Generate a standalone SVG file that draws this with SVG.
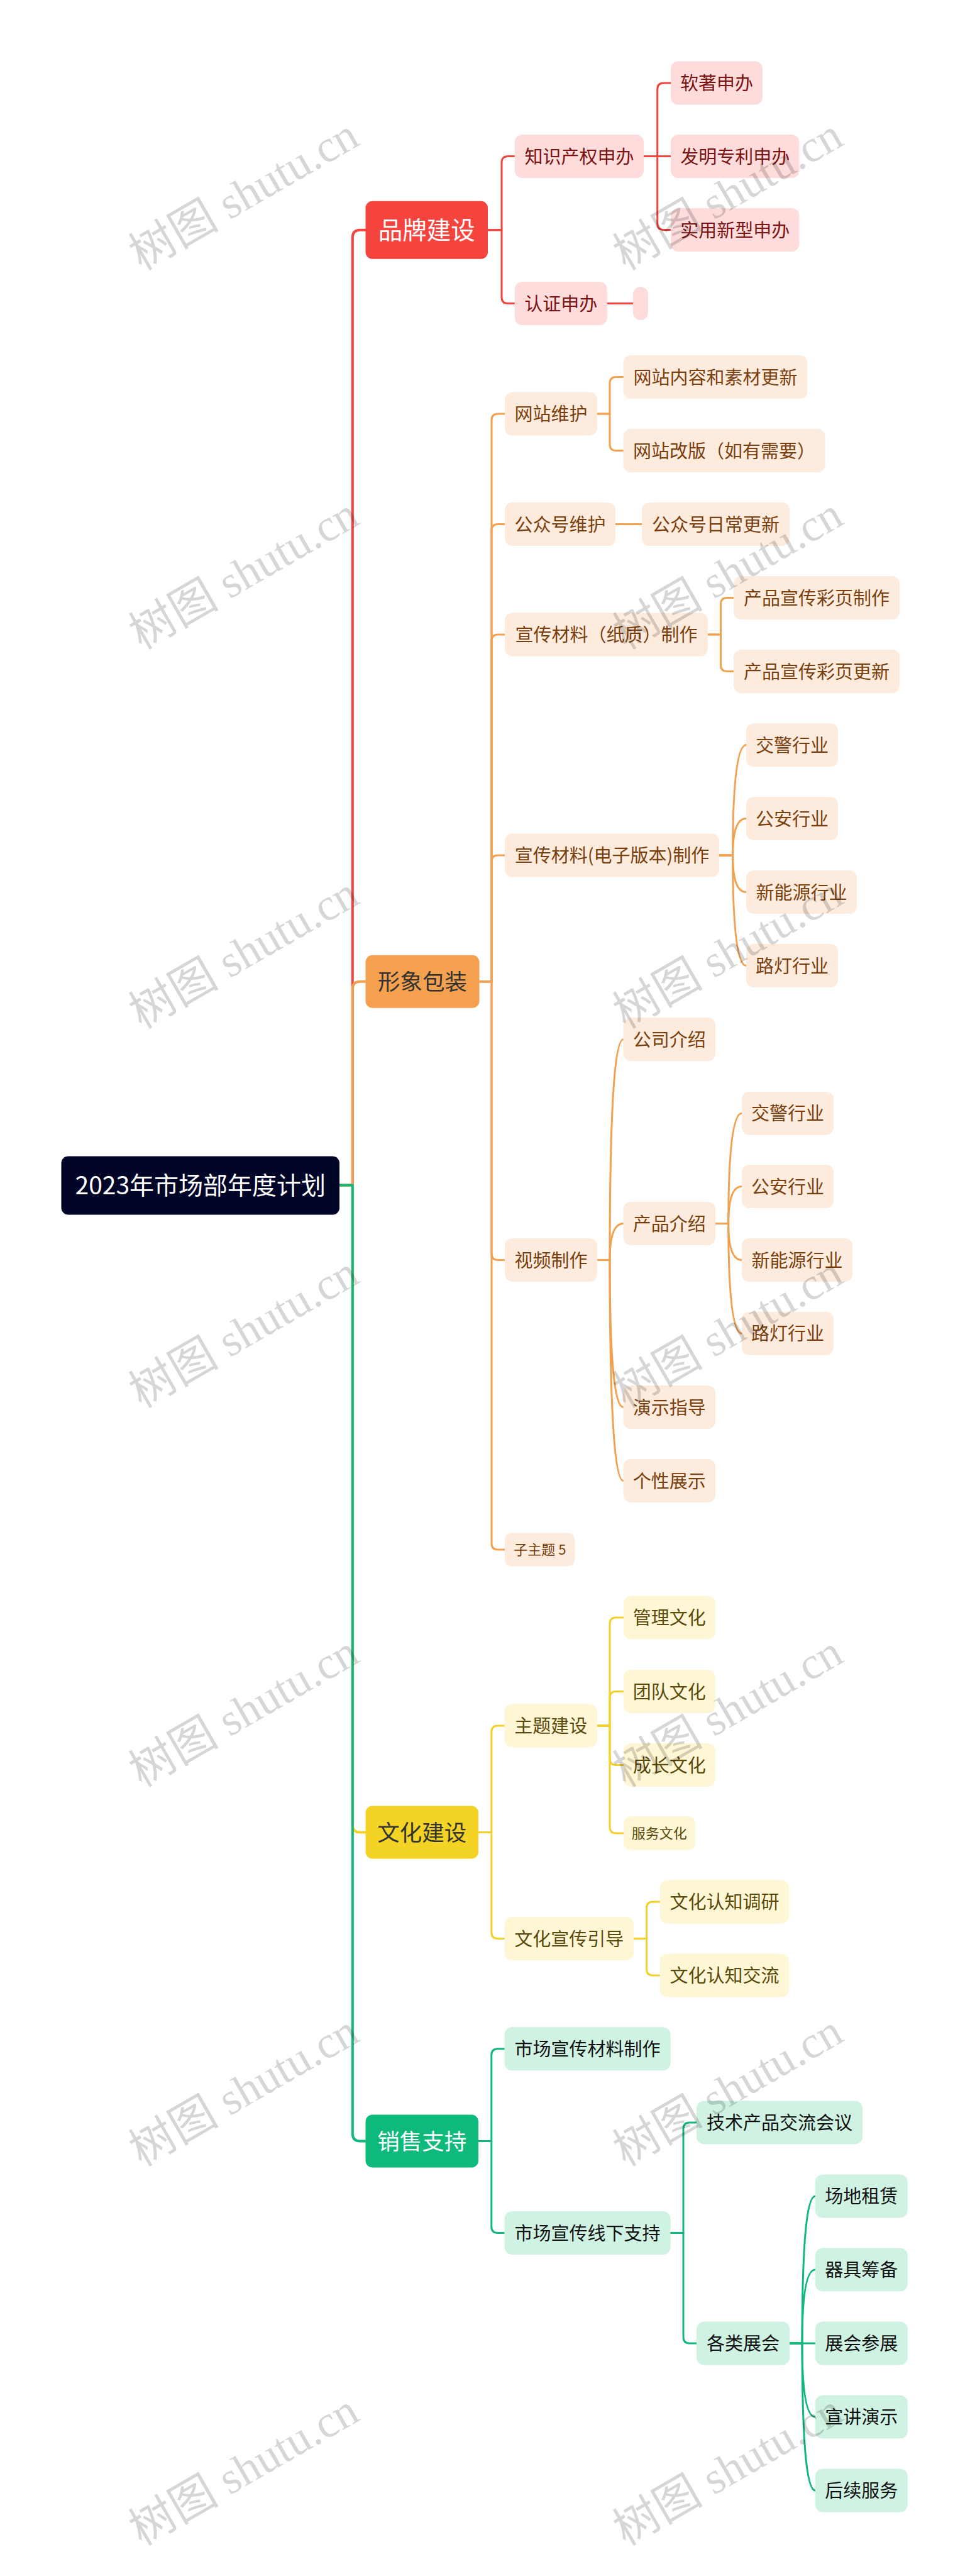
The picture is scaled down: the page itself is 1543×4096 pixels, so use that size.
<svg xmlns="http://www.w3.org/2000/svg" width="1543" height="4096" viewBox="0 0 1543 4096">
<style>
text{font-family:"Noto Sans CJK SC","Noto Sans",sans-serif;text-anchor:middle}
.c{fill:none;stroke-linecap:round;stroke-linejoin:round}
.tr{stroke-width:4}
.br{stroke-width:3}
.red{stroke:#F3443D}
.org{stroke:#F1A14F}
.yel{stroke:#F2D02A}
.grn{stroke:#12B87B}
.n-root{fill:#000426}
.n-rm{fill:#F5433D}
.n-om{fill:#F5A14F}
.n-ym{fill:#F3D425}
.n-gm{fill:#0DBA7B}
.n-r{fill:#FDDCDB}
.n-o{fill:#FDEBDD}
.n-y{fill:#FEF6D5}
.n-g{fill:#CFF2E3}
.t-root{fill:#ffffff;font-size:39px}
.t-bm{fill:#ffffff;font-size:38.5px}
.t-mw{fill:#ffffff;font-size:35.5px}
.t-md{fill:#333333;font-size:35.5px}
.t-r{fill:#7C1212;font-size:29px}
.t-o{fill:#7A3F0E;font-size:29px}
.t-y{fill:#5A4B0C;font-size:29px}
.t-g{fill:#111111;font-size:29px}
.sm{font-size:22px}
.wm{font-family:"Liberation Serif","Noto Sans CJK SC",serif;font-size:72px;fill:#000000;fill-opacity:0.16}
</style>
<rect x="0" y="0" width="1543" height="4096" fill="#ffffff"/>

<g id="connectors">
  <!-- trunk -->
  <path class="c tr red" d="M540 1884.5 H560.8 V377.7 Q560.8 365.7 572.8 365.7 H581.5"/>
  <path class="c tr org" d="M540 1884.5 H560.8 V1572.8 Q560.8 1560.8 572.8 1560.8 H581.5"/>
  <path class="c tr yel" d="M540 1884.5 H560.8 V2901.5 Q560.8 2913.5 572.8 2913.5 H581.5"/>
  <path class="c tr grn" d="M540 1884.5 H560.8 V3392.5 Q560.8 3404.5 572.8 3404.5 H581.5"/>
  <!-- brand -->
  <path class="c br red" d="M776 365.7 H798 V258.5 Q798 248.5 808 248.5 H818.7"/>
  <path class="c br red" d="M776 365.7 H798 V472.5 Q798 482.5 808 482.5 H818.7"/>
  <path class="c br red" d="M1024 248.5 H1067"/>
  <path class="c br red" d="M1024 248.5 H1045.7 V142 Q1045.7 132 1055.7 132 H1067"/>
  <path class="c br red" d="M1024 248.5 H1045.7 V355.5 Q1045.7 365.5 1055.7 365.5 H1067"/>
  <path class="c br red" d="M965.7 482.5 H1007"/>
  <!-- image -->
  <path class="c br org" d="M762.5 1560.8 H782 V668 Q782 658 792 658 H803"/>
  <path class="c br org" d="M762.5 1560.8 H782 V843.5 Q782 833.5 792 833.5 H803"/>
  <path class="c br org" d="M762.5 1560.8 H782 V1019 Q782 1009 792 1009 H803"/>
  <path class="c br org" d="M762.5 1560.8 H782 V1370 Q782 1360 792 1360 H803"/>
  <path class="c br org" d="M762.5 1560.8 H782 V1993.5 Q782 2003.5 792 2003.5 H803"/>
  <path class="c br org" d="M762.5 1560.8 H782 V2454 Q782 2464 792 2464 H803"/>
  <path class="c br org" d="M950 658 H970 V609.5 Q970 599.5 980 599.5 H991.5"/>
  <path class="c br org" d="M950 658 H970 V706.5 Q970 716.5 980 716.5 H991.5"/>
  <path class="c br org" d="M979 833.5 H1021"/>
  <path class="c br org" d="M1126 1009 H1146.5 V960.5 Q1146.5 950.5 1156.5 950.5 H1167"/>
  <path class="c br org" d="M1126 1009 H1146.5 V1057.5 Q1146.5 1067.5 1156.5 1067.5 H1167"/>
  <path class="c br org" d="M1144 1360 H1165.6 Q1165.6 1184.5 1187 1184.5"/>
  <path class="c br org" d="M1144 1360 H1165.6 Q1165.6 1301.5 1187 1301.5"/>
  <path class="c br org" d="M1144 1360 H1165.6 Q1165.6 1418.5 1187 1418.5"/>
  <path class="c br org" d="M1144 1360 H1165.6 Q1165.6 1535.5 1187 1535.5"/>
  <path class="c br org" d="M950 2003.5 H970 Q970 1652.8 991.5 1652.8"/>
  <path class="c br org" d="M950 2003.5 H970 Q970 1945.5 991.5 1945.5"/>
  <path class="c br org" d="M950 2003.5 H970 Q970 2237.5 991.5 2237.5"/>
  <path class="c br org" d="M950 2003.5 H970 Q970 2354.5 991.5 2354.5"/>
  <path class="c br org" d="M1138 1945.5 H1158.7 Q1158.7 1770.3 1180 1770.3"/>
  <path class="c br org" d="M1138 1945.5 H1158.7 Q1158.7 1886.5 1180 1886.5"/>
  <path class="c br org" d="M1138 1945.5 H1158.7 Q1158.7 2003.5 1180 2003.5"/>
  <path class="c br org" d="M1138 1945.5 H1158.7 Q1158.7 2120.3 1180 2120.3"/>
  <!-- culture -->
  <path class="c br yel" d="M761 2913.5 H781.8 V2754 Q781.8 2744 791.8 2744 H802.5"/>
  <path class="c br yel" d="M761 2913.5 H781.8 V3072.5 Q781.8 3082.5 791.8 3082.5 H802.5"/>
  <path class="c br yel" d="M950 2744 H970 V2582 Q970 2572 980 2572 H991.8"/>
  <path class="c br yel" d="M950 2744 H970 V2699.5 Q970 2689.5 980 2689.5 H991.8"/>
  <path class="c br yel" d="M950 2744 H970 V2796.5 Q970 2806.5 980 2806.5 H991.8"/>
  <path class="c br yel" d="M950 2744 H970 V2905 Q970 2915 980 2915 H991.8"/>
  <path class="c br yel" d="M1008 3082.5 H1028.5 V3034 Q1028.5 3024 1038.5 3024 H1049.7"/>
  <path class="c br yel" d="M1008 3082.5 H1028.5 V3131 Q1028.5 3141 1038.5 3141 H1049.7"/>
  <!-- sales -->
  <path class="c br grn" d="M761 3404.5 H781.8 V3267.8 Q781.8 3257.8 791.8 3257.8 H802.5"/>
  <path class="c br grn" d="M761 3404.5 H781.8 V3540.5 Q781.8 3550.5 791.8 3550.5 H802.5"/>
  <path class="c br grn" d="M1066.7 3550.5 H1087 V3385 Q1087 3375 1097 3375 H1108"/>
  <path class="c br grn" d="M1066.7 3550.5 H1087 V3716 Q1087 3726 1097 3726 H1108"/>
  <path class="c br grn" d="M1256 3726 H1276 Q1276 3492 1296.8 3492"/>
  <path class="c br grn" d="M1256 3726 H1276 Q1276 3609 1296.8 3609"/>
  <path class="c br grn" d="M1256 3726 H1296.8"/>
  <path class="c br grn" d="M1256 3726 H1276 Q1276 3843 1296.8 3843"/>
  <path class="c br grn" d="M1256 3726 H1276 Q1276 3960 1296.8 3960"/>
</g>

<g id="root"><rect class="n-root" x="97.5" y="1838.5" width="442.5" height="93" rx="11"/><text class="t-root" x="318.8" y="1899.3">2023年市场部年度计划</text></g>

<!-- brand -->
<g id="brand"><rect class="n-rm" x="581.5" y="319.7" width="194.5" height="92" rx="11"/><text class="t-bm" x="678.8" y="380.3">品牌建设</text></g>
<g id="ip"><rect class="n-r" x="818.7" y="214" width="205.3" height="69" rx="12"/><text class="t-r" x="921.4" y="259.5">知识产权申办</text></g>
<g id="cert"><rect class="n-r" x="818.7" y="448" width="147" height="69" rx="12"/><text class="t-r" x="892.2" y="493.5">认证申办</text></g>
<g id="soft"><rect class="n-r" x="1067" y="97.5" width="146" height="69" rx="12"/><text class="t-r" x="1140" y="143">软著申办</text></g>
<g id="patent"><rect class="n-r" x="1067" y="214" width="204.5" height="69" rx="12"/><text class="t-r" x="1169.3" y="259.5">发明专利申办</text></g>
<g id="utility"><rect class="n-r" x="1067" y="331" width="204.5" height="69" rx="12"/><text class="t-r" x="1169.3" y="376.5">实用新型申办</text></g>
<g id="empty"><rect class="n-r" x="1007" y="456" width="24" height="53" rx="12"/></g>

<!-- image -->
<g id="image"><rect class="n-om" x="581.5" y="1518.8" width="181" height="84" rx="11"/><text class="t-md" x="672" y="1574.3">形象包装</text></g>
<g id="web"><rect class="n-o" x="803" y="623.5" width="147" height="69" rx="12"/><text class="t-o" x="876.5" y="669">网站维护</text></g>
<g id="web1"><rect class="n-o" x="991.5" y="565" width="293" height="69" rx="12"/><text class="t-o" x="1138" y="610.5">网站内容和素材更新</text></g>
<g id="web2"><rect class="n-o" x="991.5" y="682" width="321" height="69" rx="12"/><text class="t-o" x="1152" y="727.5">网站改版（如有需要）</text></g>
<g id="wechat"><rect class="n-o" x="803" y="799" width="176" height="69" rx="12"/><text class="t-o" x="891" y="844.5">公众号维护</text></g>
<g id="wechat1"><rect class="n-o" x="1021" y="799" width="235" height="69" rx="12"/><text class="t-o" x="1138.5" y="844.5">公众号日常更新</text></g>
<g id="paper"><rect class="n-o" x="803" y="974.5" width="323" height="69" rx="12"/><text class="t-o" x="964.5" y="1020">宣传材料（纸质）制作</text></g>
<g id="paper1"><rect class="n-o" x="1167" y="916" width="264" height="69" rx="12"/><text class="t-o" x="1299" y="961.5">产品宣传彩页制作</text></g>
<g id="paper2"><rect class="n-o" x="1167" y="1033" width="264" height="69" rx="12"/><text class="t-o" x="1299" y="1078.5">产品宣传彩页更新</text></g>
<g id="ebook"><rect class="n-o" x="803" y="1325.5" width="341" height="69" rx="12"/><text class="t-o" x="973.5" y="1371">宣传材料(电子版本)制作</text></g>
<g id="e1"><rect class="n-o" x="1187" y="1150" width="146" height="69" rx="12"/><text class="t-o" x="1260" y="1195.5">交警行业</text></g>
<g id="e2"><rect class="n-o" x="1187" y="1267" width="146" height="69" rx="12"/><text class="t-o" x="1260" y="1312.5">公安行业</text></g>
<g id="e3"><rect class="n-o" x="1187" y="1384" width="176" height="69" rx="12"/><text class="t-o" x="1275" y="1429.5">新能源行业</text></g>
<g id="e4"><rect class="n-o" x="1187" y="1501" width="146" height="69" rx="12"/><text class="t-o" x="1260" y="1546.5">路灯行业</text></g>
<g id="video"><rect class="n-o" x="803" y="1969" width="147" height="69" rx="12"/><text class="t-o" x="876.5" y="2014.5">视频制作</text></g>
<g id="v1"><rect class="n-o" x="991.5" y="1618.3" width="146.5" height="69" rx="12"/><text class="t-o" x="1064.8" y="1663.8">公司介绍</text></g>
<g id="v2"><rect class="n-o" x="991.5" y="1911" width="146.5" height="69" rx="12"/><text class="t-o" x="1064.8" y="1956.5">产品介绍</text></g>
<g id="v3"><rect class="n-o" x="991.5" y="2203" width="146.5" height="69" rx="12"/><text class="t-o" x="1064.8" y="2248.5">演示指导</text></g>
<g id="v4"><rect class="n-o" x="991.5" y="2320" width="146.5" height="69" rx="12"/><text class="t-o" x="1064.8" y="2365.5">个性展示</text></g>
<g id="p1"><rect class="n-o" x="1180" y="1735.8" width="146" height="69" rx="12"/><text class="t-o" x="1253" y="1781.3">交警行业</text></g>
<g id="p2"><rect class="n-o" x="1180" y="1852" width="146" height="69" rx="12"/><text class="t-o" x="1253" y="1897.5">公安行业</text></g>
<g id="p3"><rect class="n-o" x="1180" y="1969" width="176" height="69" rx="12"/><text class="t-o" x="1268" y="2014.5">新能源行业</text></g>
<g id="p4"><rect class="n-o" x="1180" y="2085.8" width="146" height="69" rx="12"/><text class="t-o" x="1253" y="2131.3">路灯行业</text></g>
<g id="sub5"><rect class="n-o" x="803" y="2437.5" width="111.5" height="53" rx="11"/><text class="t-o sm" x="858.8" y="2472.4">子主题 5</text></g>

<!-- culture -->
<g id="culture"><rect class="n-ym" x="581.5" y="2871.5" width="179.5" height="84" rx="11"/><text class="t-md" x="671.3" y="2927">文化建设</text></g>
<g id="theme"><rect class="n-y" x="802.5" y="2709.5" width="147.5" height="69" rx="12"/><text class="t-y" x="876.3" y="2755">主题建设</text></g>
<g id="c1"><rect class="n-y" x="991.8" y="2537.5" width="146" height="69" rx="12"/><text class="t-y" x="1064.8" y="2583">管理文化</text></g>
<g id="c2"><rect class="n-y" x="991.8" y="2655" width="146" height="69" rx="12"/><text class="t-y" x="1064.8" y="2700.5">团队文化</text></g>
<g id="c3"><rect class="n-y" x="991.8" y="2772" width="146" height="69" rx="12"/><text class="t-y" x="1064.8" y="2817.5">成长文化</text></g>
<g id="c4"><rect class="n-y" x="991.8" y="2888.5" width="114" height="53" rx="11"/><text class="t-y sm" x="1048.8" y="2923.4">服务文化</text></g>
<g id="guide"><rect class="n-y" x="802.5" y="3048" width="205.5" height="69" rx="12"/><text class="t-y" x="905.3" y="3093.5">文化宣传引导</text></g>
<g id="g1"><rect class="n-y" x="1049.7" y="2989.5" width="205.3" height="69" rx="12"/><text class="t-y" x="1152.4" y="3035">文化认知调研</text></g>
<g id="g2"><rect class="n-y" x="1049.7" y="3106.5" width="205.3" height="69" rx="12"/><text class="t-y" x="1152.4" y="3152">文化认知交流</text></g>

<!-- sales -->
<g id="sales"><rect class="n-gm" x="581.5" y="3362.5" width="179.5" height="84" rx="11"/><text class="t-mw" x="671.3" y="3418">销售支持</text></g>
<g id="mat"><rect class="n-g" x="802.5" y="3223.3" width="264" height="69" rx="12"/><text class="t-g" x="934.5" y="3268.8">市场宣传材料制作</text></g>
<g id="offline"><rect class="n-g" x="802.5" y="3516" width="264" height="69" rx="12"/><text class="t-g" x="934.5" y="3561.5">市场宣传线下支持</text></g>
<g id="tech"><rect class="n-g" x="1108" y="3340.5" width="264" height="69" rx="12"/><text class="t-g" x="1240" y="3386">技术产品交流会议</text></g>
<g id="expo"><rect class="n-g" x="1108" y="3691.5" width="148" height="69" rx="12"/><text class="t-g" x="1182" y="3737">各类展会</text></g>
<g id="x1"><rect class="n-g" x="1296.8" y="3457.5" width="147" height="69" rx="12"/><text class="t-g" x="1370.3" y="3503">场地租赁</text></g>
<g id="x2"><rect class="n-g" x="1296.8" y="3574.5" width="147" height="69" rx="12"/><text class="t-g" x="1370.3" y="3620">器具筹备</text></g>
<g id="x3"><rect class="n-g" x="1296.8" y="3691.5" width="147" height="69" rx="12"/><text class="t-g" x="1370.3" y="3737">展会参展</text></g>
<g id="x4"><rect class="n-g" x="1296.8" y="3808.5" width="147" height="69" rx="12"/><text class="t-g" x="1370.3" y="3854">宣讲演示</text></g>
<g id="x5"><rect class="n-g" x="1296.8" y="3925.5" width="147" height="69" rx="12"/><text class="t-g" x="1370.3" y="3971">后续服务</text></g>

<g id="watermarks">
  <text class="wm" x="389" y="333" transform="rotate(-30 389 311)">树图 shutu.cn</text>
  <text class="wm" x="1159" y="333" transform="rotate(-30 1159 311)">树图 shutu.cn</text>
  <text class="wm" x="389" y="936" transform="rotate(-30 389 914)">树图 shutu.cn</text>
  <text class="wm" x="1159" y="936" transform="rotate(-30 1159 914)">树图 shutu.cn</text>
  <text class="wm" x="389" y="1539" transform="rotate(-30 389 1517)">树图 shutu.cn</text>
  <text class="wm" x="1159" y="1539" transform="rotate(-30 1159 1517)">树图 shutu.cn</text>
  <text class="wm" x="389" y="2142" transform="rotate(-30 389 2120)">树图 shutu.cn</text>
  <text class="wm" x="1159" y="2142" transform="rotate(-30 1159 2120)">树图 shutu.cn</text>
  <text class="wm" x="389" y="2745" transform="rotate(-30 389 2723)">树图 shutu.cn</text>
  <text class="wm" x="1159" y="2745" transform="rotate(-30 1159 2723)">树图 shutu.cn</text>
  <text class="wm" x="389" y="3348" transform="rotate(-30 389 3326)">树图 shutu.cn</text>
  <text class="wm" x="1159" y="3348" transform="rotate(-30 1159 3326)">树图 shutu.cn</text>
  <text class="wm" x="389" y="3951" transform="rotate(-30 389 3929)">树图 shutu.cn</text>
  <text class="wm" x="1159" y="3951" transform="rotate(-30 1159 3929)">树图 shutu.cn</text>
</g>
</svg>
